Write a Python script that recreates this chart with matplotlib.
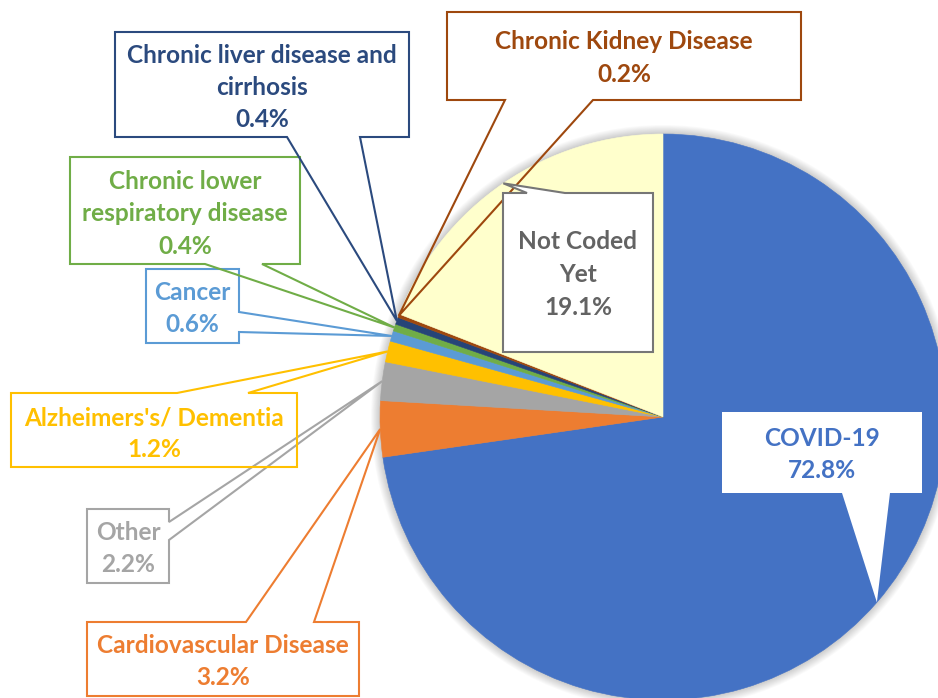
import matplotlib
matplotlib.use("Agg")
import matplotlib.pyplot as plt
from matplotlib.patches import Polygon, Rectangle, Circle
import numpy as np

# ---------------- data ----------------
categories = ["COVID-19", "Cardiovascular Disease", "Other", "Alzheimers's/ Dementia",
              "Cancer", "Chronic lower respiratory disease",
              "Chronic liver disease and cirrhosis", "Chronic Kidney Disease", "Not Coded Yet"]
label_lines = [["COVID-19"], ["Cardiovascular Disease"], ["Other"], ["Alzheimers's/ Dementia"],
               ["Cancer"], ["Chronic lower", "respiratory disease"],
               ["Chronic liver disease and", "cirrhosis"], ["Chronic Kidney Disease"],
               ["Not Coded", "Yet"]]
values = [72.8, 3.2, 2.2, 1.2, 0.6, 0.4, 0.4, 0.2, 19.1]
pct_labels = ["72.8%", "3.2%", "2.2%", "1.2%", "0.6%", "0.4%", "0.4%", "0.2%", "19.1%"]

# ---------------- style ----------------
slice_colors = ["#4472C4", "#ED7D31", "#A5A5A5", "#FFC000", "#5B9BD5",
                "#70AD47", "#264478", "#9E480E", "#FFFFCC"]
text_colors = ["#4472C4", "#ED7D31", "#A5A5A5", "#FFC000", "#5B9BD5",
               "#70AD47", "#2B4A7E", "#9E480E", "#636363"]
border_colors = [None, "#ED7D31", "#A5A5A5", "#FFC000", "#5B9BD5",
                 "#70AD47", "#2B4A7E", "#9E480E", "#767676"]

W, H = 938, 698
CX, CY, R = 663, 417, 283

# callout layout in pixel coords: box (x0,y0,x1,y1), wedge edge, base positions, line centers, text x
layout = [
    dict(box=(722, 412, 922, 493), edge="bottom", base=(842, 890), lines=(438, 470), tx=822, filled=True, border=False),
    dict(box=(87, 622, 359, 696), edge="top", base=(246, 314), lines=(645, 677), tx=223),
    dict(box=(87, 509, 169, 583), edge="right", base=(522, 540), lines=(532, 564), tx=128),
    dict(box=(11, 393, 297, 467), edge="top", base=(177, 248), lines=(417, 449), tx=154),
    dict(box=(146, 269, 239, 343), edge="right", base=(312, 332), lines=(292, 324), tx=192),
    dict(box=(70, 157, 300, 264), edge="bottom", base=(205, 262), lines=(181, 213, 246), tx=185),
    dict(box=(115, 32, 409, 137), edge="bottom", base=(287, 360), lines=(55, 87, 119), tx=262),
    dict(box=(447, 12, 801, 100), edge="bottom", base=(505, 593), lines=(41, 74), tx=624),
    dict(box=(503, 193, 653, 352), edge="top", base=(527, 565), lines=(241, 274, 307), tx=578, filled=True),
]
zorders = [5, 5, 5, 5, 5, 5, 5, 5, 6]

plt.rcParams['font.family'] = ['Lato', 'DejaVu Sans']

fig = plt.figure(figsize=(W / 100, H / 100), dpi=100)
ax = fig.add_axes([0, 0, 1, 1])


def Y(y):
    return H - y


# soft shadow around pie
for k in range(10, 0, -1):
    ax.add_patch(Circle((CX, Y(CY)), R + k * 0.9, color="#000000", alpha=0.018, lw=0, zorder=0))

wedges, _ = ax.pie(values, colors=slice_colors, startangle=90, counterclock=False,
                   center=(CX, Y(CY)), radius=R,
                   wedgeprops=dict(linewidth=0.4, edgecolor=None, antialiased=True))
for w, c in zip(wedges, slice_colors):
    w.set_edgecolor(c)
    w.set_zorder(1)

ax.set_xlim(0, W)
ax.set_ylim(0, H)
ax.set_aspect("equal")
ax.axis("off")

for i, w in enumerate(wedges):
    lay = layout[i]
    mid = np.deg2rad((w.theta1 + w.theta2) / 2)
    tip = (CX + R * np.cos(mid), Y(CY) + R * np.sin(mid))
    x0, y0, x1, y1 = lay["box"]
    a, b = lay["base"]
    e = lay["edge"]
    tl, tr, br, bl = (x0, Y(y0)), (x1, Y(y0)), (x1, Y(y1)), (x0, Y(y1))
    if e == "top":
        verts = [tl, (a, Y(y0)), tip, (b, Y(y0)), tr, br, bl]
    elif e == "right":
        verts = [tl, tr, (x1, Y(a)), tip, (x1, Y(b)), br, bl]
    elif e == "bottom":
        verts = [tl, tr, br, (b, Y(y1)), tip, (a, Y(y1)), bl]
    else:
        verts = [tl, tr, br, bl, (x0, Y(b)), tip, (x0, Y(a))]
    z = zorders[i]
    filled = lay.get("filled", False)
    border = lay.get("border", True)
    if filled:
        ax.add_patch(Polygon(verts, closed=True, facecolor="white",
                             edgecolor=border_colors[i] if border else "none",
                             lw=1.5, zorder=z, joinstyle="miter"))
    else:
        ax.add_patch(Rectangle((x0, Y(y1)), x1 - x0, y1 - y0, facecolor="white",
                               edgecolor="none", zorder=z))
        ax.add_patch(Polygon(verts, closed=True, facecolor="none",
                             edgecolor=border_colors[i], lw=1.5, zorder=z + 0.1,
                             joinstyle="miter"))
    texts = label_lines[i] + [pct_labels[i]]
    for t, ly in zip(texts, lay["lines"]):
        ax.text(lay["tx"], Y(ly + 8), t, ha="center", va="baseline",
                fontsize=17.6, fontweight="bold", color=text_colors[i], zorder=z + 0.2)

fig.savefig("out.png", dpi=100)
